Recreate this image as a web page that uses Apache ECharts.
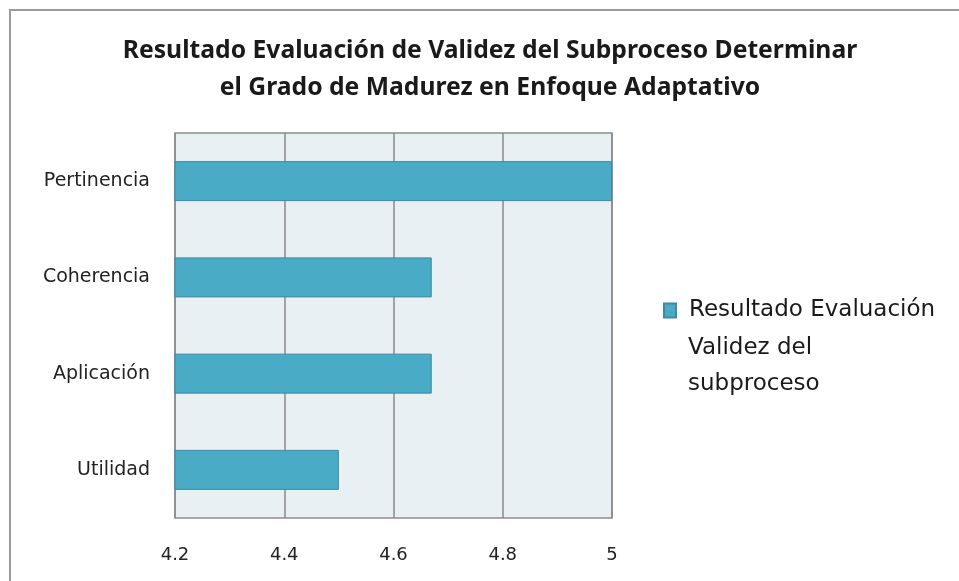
<!DOCTYPE html>
<html>
<head>
<meta charset="utf-8">
<script src="https://cdn.jsdelivr.net/npm/echarts@6/dist/echarts.min.js"></script>
<style>
    html, body { margin: 0; padding: 0; background: #fff; }
    #chart { width: 959px; height: 581px; }
</style>
</head>
<body>
<div id="chart"></div>
<script>
// categories top to bottom
var categories = ['Pertinencia', 'Coherencia', 'Aplicación', 'Utilidad']
var values = [5, 4.67, 4.67, 4.5]
var xTicks = [4.2, 4.4, 4.6, 4.8, 5]
var seriesName = 'Resultado Evaluación Validez del subproceso'
var legendLines = ['Resultado Evaluación', 'Validez del', 'subproceso']
var titleText = 'Resultado Evaluación de Validez del Subproceso Determinar\nel Grado de Madurez en Enfoque Adaptativo'

var legendFont = {
    fontFamily: 'DejaVu Sans',
    fontSize: 23,
    fill: '#1a1a1a'
}

var myChart = echarts.init(document.getElementById('chart'))
var option = {
    backgroundColor: '#fff',
    animation: false,
    graphic: [{
        type: 'rect',
        shape: { x: 10, y: 10, width: 1200, height: 800 },
        style: { fill: 'none', stroke: '#9a9a9a', lineWidth: 2 },
        silent: true
    }, {
        // rest of the wrapped legend label
        type: 'text',
        left: 688,
        top: 337,
        silent: true,
        style: Object.assign({ text: legendLines[1] }, legendFont)
    }, {
        type: 'text',
        left: 688,
        top: 373,
        silent: true,
        style: Object.assign({ text: legendLines[2] }, legendFont)
    }],
    title: {
        text: titleText,
        left: 490,
        top: 32,
        padding: 0,
        textAlign: 'center',
        textStyle: {
            fontFamily: 'Noto Sans',
            fontWeight: 'bold',
            fontSize: 24.7,
            lineHeight: 37,
            color: '#1a1a1a'
        }
    },
    legend: {
        data: [seriesName],
        left: 663,
        top: 299,
        padding: 0,
        itemWidth: 12,
        itemHeight: 14,
        icon: 'rect',
        formatter: function () {
            return '{a|' + legendLines[0] + '}'
        },
        textStyle: {
            rich: {
                a: {
                    fontFamily: 'DejaVu Sans',
                    fontSize: 23,
                    color: '#1a1a1a',
                    padding: [0, 0, 0, 8]
                }
            }
        }
    },
    grid: {
        left: 175,
        right: 347,
        top: 133,
        bottom: 63,
        show: true,
        backgroundColor: '#e9f0f4',
        borderColor: '#8c8c8c',
        borderWidth: 1.5
    },
    xAxis: {
        type: 'value',
        min: xTicks[0],
        max: xTicks[xTicks.length - 1],
        interval: 0.2,
        axisLine: { show: false },
        axisTick: { show: false },
        axisLabel: {
            margin: 28,
            fontFamily: 'DejaVu Sans',
            fontSize: 18,
            color: '#222',
            formatter: function (v) {
                return String(Math.round(v * 10) / 10)
            }
        },
        splitLine: { lineStyle: { color: '#8a8a8a', width: 1.5 } }
    },
    yAxis: {
        type: 'category',
        data: categories,
        inverse: true,
        axisLine: { show: false },
        axisTick: { show: false },
        axisLabel: {
            margin: 25,
            fontFamily: 'DejaVu Sans',
            fontSize: 19,
            color: '#222'
        }
    },
    series: [{
        name: seriesName,
        type: 'bar',
        barWidth: 40,
        data: values,
        itemStyle: {
            color: '#4aabc6',
            borderColor: '#3a8ba3',
            borderWidth: 1
        }
    }]
}
myChart.setOption(option)
</script>
</body>
</html>
